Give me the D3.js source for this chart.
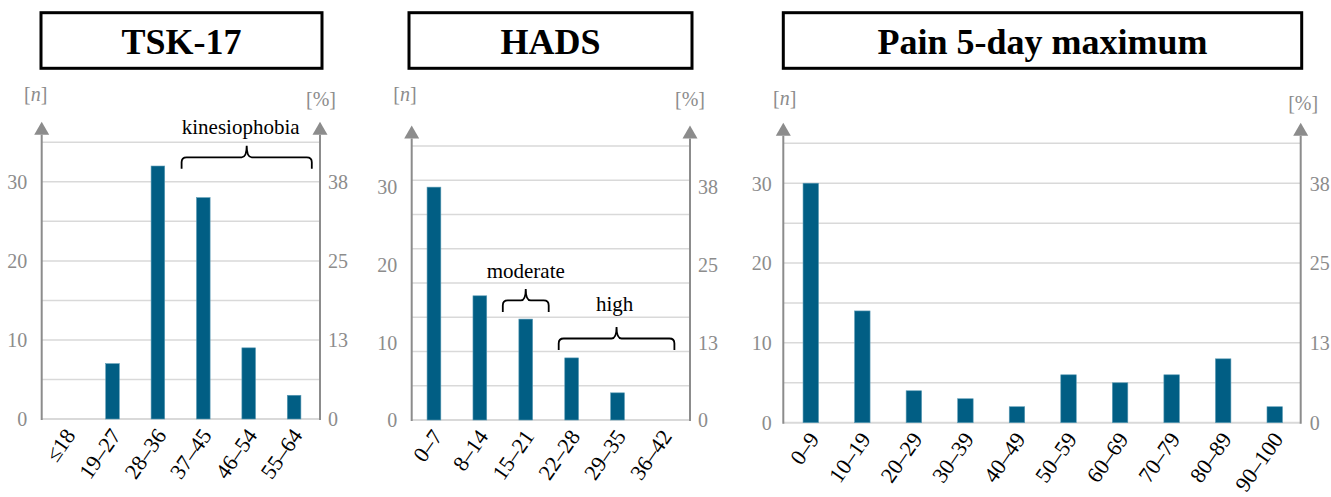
<!DOCTYPE html>
<html>
<head>
<meta charset="utf-8">
<script src="https://cdn.jsdelivr.net/npm/d3@7"></script>
<style>
  html, body { margin: 0; padding: 0; background: #fff; }
  svg { display: block; }
  svg text { font-family: "Liberation Serif", "Tinos", "Times New Roman", "Times", "DejaVu Serif", "Noto Serif", serif !important; }
</style>
</head>
<body>
<div id="chart"></div>
<script>
// ---------- DATA ----------
const tskTitle = "TSK-17";
const tskCategories = ["≤18", "19–27", "28–36", "37–45", "46–54", "55–64"];
const tskValues = [0, 7, 32, 28, 9, 3];

const hadsTitle = "HADS";
const hadsCategories = ["0–7", "8–14", "15–21", "22–28", "29–35", "36–42"];
const hadsValues = [30, 16, 13, 8, 3.5, 0];

const painTitle = "Pain 5-day maximum";
const painCategories = ["0–9", "10–19", "20–29", "30–39", "40–49", "50–59", "60–69", "70–79", "80–89", "90–100"];
const painValues = [30, 14, 4, 3, 2, 6, 5, 6, 8, 2];

const nTicks = [0, 10, 20, 30];
const pctTickLabels = ["0", "13", "25", "38"];
const leftAxisLabel = "n";
const rightAxisLabel = "[%]";

const tskAnnotations = [{ label: "kinesiophobia", from: "37–45", to: "55–64", level: 33.1, textLevel: 36.0 }];
const hadsAnnotations = [
  { label: "moderate", from: "15–21", to: "15–21", level: 15.4, textLevel: 18.3 },
  { label: "high", from: "22–28", to: "36–42", level: 10.5, textLevel: 14.05 }
];
const painAnnotations = [];

// ---------- LAYOUT / STYLE ----------
const W = 1331, H = 497;
const barColor = "#015e84";
const axisColor = "#8c8c8c";
const gridColor = "#d9d9d9";
const fs = 20;

const panels = [
  { title: tskTitle, cats: tskCategories, vals: tskValues, ann: tskAnnotations,
    g: { axisL: 41.7, axisR: 320, band: [44.4, 316.8], y0: 419, yTop: 142.3, yMax: 35, gridDiv: 7,
         box: [41, 322], nDx: -6, nY: 101, pDx: 1, pY: 106, tickGapL: 14.5, tickGapR: 8,
         annInset: [[1, 5]], annTextDx: [-6] } },
  { title: hadsTitle, cats: hadsCategories, vals: hadsValues, ann: hadsAnnotations,
    g: { axisL: 411.7, axisR: 690, band: [411, 686.4], y0: 420, yTop: 146, yMax: 35.3, gridDiv: 8,
         box: [409, 692], nDx: -6.7, nY: 101, pDx: 0, pY: 106, tickGapL: 14.5, tickGapR: 8,
         annInset: [[0, 0], [10, 12]], annTextDx: [0, -2] } },
  { title: painTitle, cats: painCategories, vals: painValues, ann: painAnnotations,
    g: { axisL: 783.3, axisR: 1300.7, band: [785, 1300.5], y0: 422.7, yTop: 143.3, yMax: 35, gridDiv: 7,
         box: [783.3, 1301.7], nDx: 1.4, nY: 105, pDx: 2.5, pY: 110, tickGapL: 11.5, tickGapR: 9,
         annInset: [], annTextDx: [] } }
];

const svg = d3.select("#chart").append("svg")
  .attr("width", W).attr("height", H)
  .attr("viewBox", `0 0 ${W} ${H}`);
svg.append("rect").attr("width", W).attr("height", H).attr("fill", "#fff");

function bracePath(x1, x2, y, h, c, r) {
  const xm = (x1 + x2) / 2;
  return `M${x1},${y + h} L${x1},${y + r} Q${x1},${y} ${x1 + r},${y} L${xm - r},${y} Q${xm},${y} ${xm},${y - c}` +
         ` Q${xm},${y} ${xm + r},${y} L${x2 - r},${y} Q${x2},${y} ${x2},${y + r} L${x2},${y + h}`;
}

panels.forEach(p => {
  const g = p.g;
  const gp = svg.append("g");

  const x = d3.scaleBand().domain(p.cats).range(g.band).paddingInner(0.7).paddingOuter(0.35);
  const y = d3.scaleLinear().domain([0, g.yMax]).range([g.y0, g.yTop]);

  // title box
  const boxTop = 12.7, boxBot = 68.3;
  gp.append("rect")
    .attr("x", g.box[0]).attr("y", boxTop)
    .attr("width", g.box[1] - g.box[0]).attr("height", boxBot - boxTop)
    .attr("fill", "#fff").attr("stroke", "#000").attr("stroke-width", 3);
  gp.append("text")
    .attr("x", (g.box[0] + g.box[1]) / 2).attr("y", 53.5)
    .attr("text-anchor", "middle")
    .attr("font-weight", "bold").attr("font-size", 36)
    .attr("fill", "#000")
    .text(p.title);

  // gridlines
  const gridVals = d3.range(1, g.gridDiv + 1).map(i => g.yMax * i / g.gridDiv);
  gp.append("g").selectAll("line").data(gridVals).join("line")
    .attr("x1", g.axisL).attr("x2", g.axisR)
    .attr("y1", d => y(d)).attr("y2", d => y(d))
    .attr("stroke", gridColor).attr("stroke-width", 1.5);
  // baseline
  gp.append("line")
    .attr("x1", g.axisL).attr("x2", g.axisR)
    .attr("y1", y(0)).attr("y2", y(0))
    .attr("stroke", gridColor).attr("stroke-width", 2);

  // bars
  gp.append("g").selectAll("rect").data(p.cats.map((c, i) => ({ c, v: p.vals[i] })).filter(d => d.v > 0)).join("rect")
    .attr("x", d => x(d.c)).attr("width", x.bandwidth())
    .attr("y", d => y(d.v)).attr("height", d => y(0) - y(d.v))
    .attr("fill", barColor)
    .attr("stroke", "#5b9bb5").attr("stroke-width", 0.6);

  // vertical axes with arrows
  const arrowTip = g.yTop - 20.5, arrowBase = g.yTop - 7.5;
  [g.axisL, g.axisR].forEach(ax => {
    gp.append("line").attr("x1", ax).attr("x2", ax)
      .attr("y1", arrowBase).attr("y2", y(0) + 1)
      .attr("stroke", axisColor).attr("stroke-width", 2);
    gp.append("path")
      .attr("d", `M${ax},${arrowTip} L${ax - 7.5},${arrowBase} L${ax + 7.5},${arrowBase} Z`)
      .attr("fill", axisColor);
  });

  // left tick labels (n)
  const leftAxis = d3.axisLeft(y).tickValues(nTicks).tickSize(0).tickPadding(g.tickGapL).tickFormat(d3.format("d"));
  const la = gp.append("g").attr("transform", `translate(${g.axisL},0)`).call(leftAxis);
  la.select(".domain").remove();
  la.selectAll("text").attr("font-size", fs)
    .attr("fill", axisColor).attr("dy", "0.34em");

  // right tick labels (%)
  const rightAxis = d3.axisRight(y).tickValues(nTicks).tickSize(0).tickPadding(g.tickGapR)
    .tickFormat((d, i) => pctTickLabels[i]);
  const ra = gp.append("g").attr("transform", `translate(${g.axisR},0)`).call(rightAxis);
  ra.select(".domain").remove();
  ra.selectAll("text").attr("font-size", fs)
    .attr("fill", axisColor).attr("dy", "0.34em");

  // axis unit labels
  const nl = gp.append("text").attr("x", g.axisL + g.nDx).attr("y", g.nY)
    .attr("text-anchor", "middle").attr("font-size", fs).attr("fill", axisColor);
  nl.append("tspan").text("[");
  nl.append("tspan").attr("font-style", "italic").text(leftAxisLabel);
  nl.append("tspan").text("]");
  gp.append("text").attr("x", g.axisR + g.pDx).attr("y", g.pY)
    .attr("text-anchor", "middle").attr("font-size", fs).attr("fill", axisColor)
    .text(rightAxisLabel);

  // x tick labels
  const bottomAxis = d3.axisBottom(x).tickSize(0).tickPadding(0);
  const ba = gp.append("g").attr("transform", `translate(0,${y(0)})`).call(bottomAxis);
  ba.select(".domain").remove();
  ba.selectAll("text")
    .attr("font-size", 22).attr("fill", "#000")
    .attr("text-anchor", "end")
    .attr("x", 0).attr("y", 0).attr("dy", "0.35em")
    .attr("transform", "translate(3,12) rotate(-55)");

  // annotations (braces)
  p.ann.forEach((a, i) => {
    const ins = g.annInset[i] || [0, 0];
    const x1 = x(a.from) - x.step() * x.paddingInner() / 2 + ins[0];
    const x2 = x(a.to) + x.bandwidth() + x.step() * x.paddingInner() / 2 - ins[1];
    const yy = y(a.level);
    gp.append("path").attr("d", bracePath(x1, x2, yy, 11.5, 11.5, 5))
      .attr("fill", "none").attr("stroke", "#000").attr("stroke-width", 1.8);
    gp.append("text").attr("x", (x1 + x2) / 2 + (g.annTextDx[i] || 0)).attr("y", y(a.textLevel))
      .attr("text-anchor", "middle").attr("font-size", 21).attr("fill", "#000")
      .text(a.label);
  });
});
</script>
</body>
</html>
